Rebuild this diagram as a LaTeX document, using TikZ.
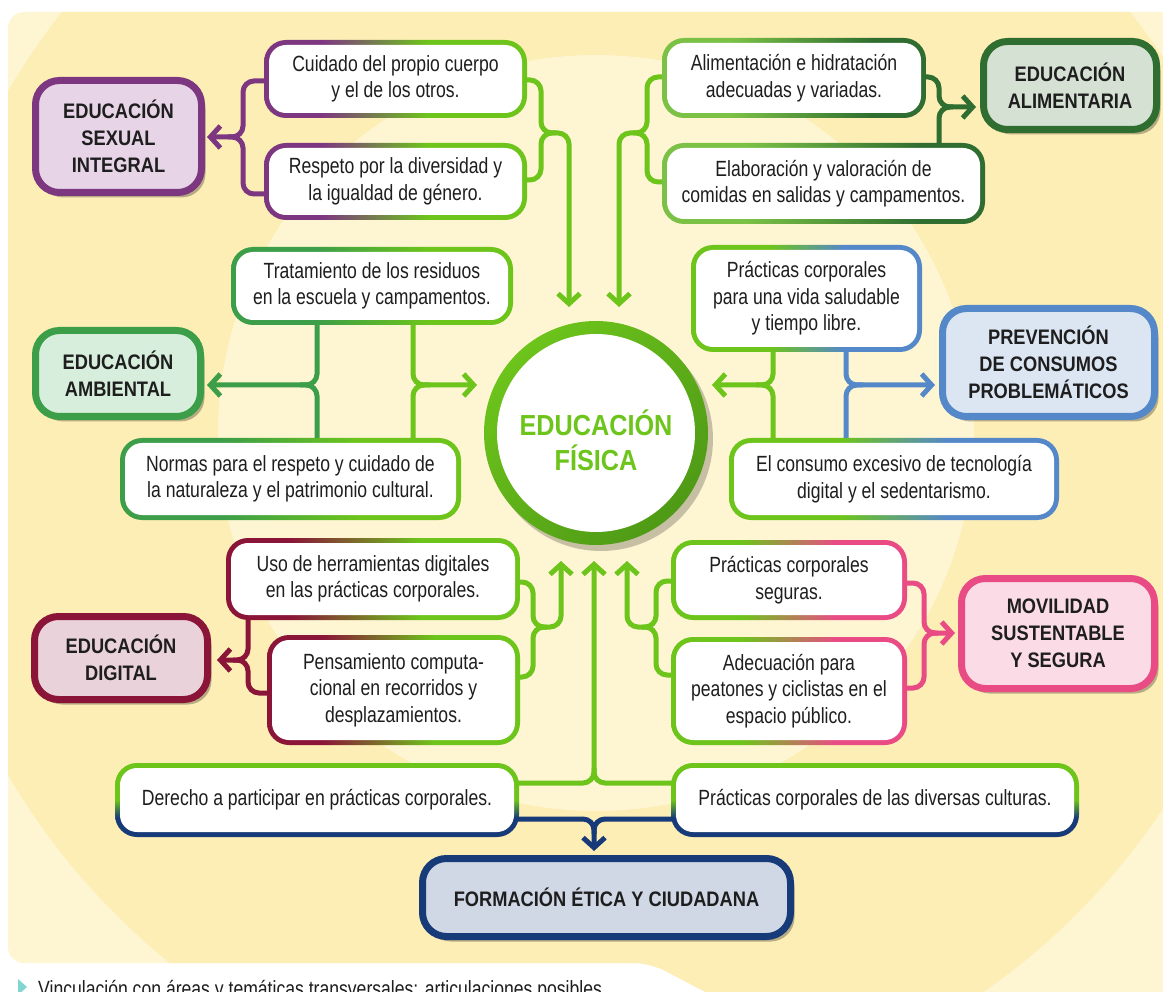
\documentclass[tikz,border=0pt]{standalone}
\usepackage{fontspec}
\setmainfont{Liberation Sans}[FakeStretch=0.80]
\newfontfamily\catfont{Liberation Sans}[FakeStretch=0.87]
\usetikzlibrary{arrows.meta,shadows}
\pgfdeclarelayer{back}
\pgfdeclarelayer{mid}
\pgfsetlayers{back,mid,main}
\definecolor{efgreen}{HTML}{6DC41B}
\definecolor{efdark}{HTML}{4F9A16}
\definecolor{lgreen}{HTML}{7BC146}
\definecolor{cP}{HTML}{7D3781}
\definecolor{cPf}{HTML}{E7D5E7}
\definecolor{cEA}{HTML}{2F6E30}
\definecolor{cEAf}{HTML}{D5E1D3}
\definecolor{cAm}{HTML}{3C9E48}
\definecolor{cAmf}{HTML}{D6EEDB}
\definecolor{cBl}{HTML}{5588C8}
\definecolor{cBlf}{HTML}{DCE6F3}
\definecolor{cCr}{HTML}{8A1538}
\definecolor{cCrf}{HTML}{EAD2DA}
\definecolor{cPk}{HTML}{E94C84}
\definecolor{cPkf}{HTML}{FBDCE6}
\definecolor{cNv}{HTML}{173A78}
\definecolor{cNvf}{HTML}{D0D8E6}
\definecolor{cream}{HTML}{FDEEB5}
\definecolor{pale}{HTML}{FEF5D3}
\definecolor{txt}{HTML}{1E1E1E}
\definecolor{markc}{HTML}{7FD6D2}
\pgfdeclarehorizontalshading{sgA}{100bp}{color(0bp)=(cP); color(36bp)=(cP); color(56bp)=(efgreen); color(100bp)=(efgreen)}
\pgfdeclarehorizontalshading{sgB}{100bp}{color(0bp)=(lgreen); color(38bp)=(lgreen); color(65bp)=(cEA); color(100bp)=(cEA)}
\pgfdeclarehorizontalshading{sgC}{100bp}{color(0bp)=(cAm); color(40bp)=(cAm); color(60bp)=(efgreen); color(100bp)=(efgreen)}
\pgfdeclarehorizontalshading{sgD}{100bp}{color(0bp)=(efgreen); color(42bp)=(efgreen); color(58bp)=(cBl); color(100bp)=(cBl)}
\pgfdeclarehorizontalshading{sgE}{100bp}{color(0bp)=(cCr); color(36bp)=(cCr); color(58bp)=(efgreen); color(100bp)=(efgreen)}
\pgfdeclarehorizontalshading{sgF}{100bp}{color(0bp)=(efgreen); color(40bp)=(efgreen); color(60bp)=(cPk); color(100bp)=(cPk)}
\pgfdeclareverticalshading{sgG}{100bp}{color(0bp)=(cNv); color(38bp)=(cNv); color(50bp)=(efgreen); color(100bp)=(efgreen)}
\newcommand\bt{\fontsize{22}{26.5}\selectfont}
\newcommand\ct{\catfont\bfseries\fontsize{21}{27}\selectfont}
\newcommand\eft{\catfont\bfseries\fontsize{29}{35}\selectfont}
\newcommand\gbox[6]{%
  \node[shade, shading=#5, rounded corners=22pt, minimum width=#3pt, minimum height=#4pt, inner sep=0pt, outer sep=0pt] (#1o) at #2 {};
  \node[wbox, minimum width={#3pt-10pt}, minimum height={#4pt-10pt}] (#1) at #2 {#6};
}
\newcommand\cbox[7]{%
  \node[cat, draw=#5, fill=#6, minimum width={#3pt-7pt}, minimum height={#4pt-7pt}] (#1) at #2 {#7};
}
\begin{document}
\begin{tikzpicture}[x=1pt,y=-1pt,
  wbox/.style={fill=white, rounded corners=17pt, inner sep=0pt, outer sep=0pt, align=center, font=\bt, text=txt},
  cat/.style={line width=7pt, rounded corners=24pt, align=center, font=\ct, text=txt, inner sep=0pt,
    drop shadow={shadow xshift=4pt, shadow yshift=-5pt, opacity=.28, fill=black}},
  con/.style={line width=5pt, rounded corners=11pt},
  arr/.style={-{Straight Barb[length=10pt,width=22pt]}}]
\useasboundingbox (0,0) rectangle (1163,992);
\clip (0,0) rectangle (1163,992);
\begin{pgfonlayer}{back}
\fill[white] (0,0) rectangle (1163,992);
\begin{scope}
\path[clip, rounded corners=16pt] (8,963) -- (8,12) -- (1200,12) -- (1200,1010) -- (740,1010) -- (650,963) -- cycle;
\fill[pale] (0,0) rectangle (1163,992);
\fill[cream] (596,433) circle (680);
\fill[pale] (596,433) circle (378);
\end{scope}
\fill[markc] (18,979) -- (27,987) -- (18,995) -- cycle;
\end{pgfonlayer}
\node[anchor=base west, font=\bt, text=txt, inner sep=0pt] (foot) at (38,996) {Vinculación con áreas y temáticas transversales: articulaciones posibles.};

% text boxes
\gbox{B2}{(395.5,79)}{263}{78}{sgA}{Cuidado del propio cuerpo\\y el de los otros.}
\gbox{B3}{(395.5,181.5)}{263}{77}{sgA}{Respeto por la diversidad y\\la igualdad de género.}
\gbox{B4}{(794,78)}{264}{80}{sgB}{Alimentación e hidratación\\adecuadas y variadas.}
\gbox{B5}{(823.5,183.5)}{323}{81}{sgB}{Elaboración y valoración de\\comidas en salidas y campamentos.}
\gbox{B7}{(372,286)}{282}{78}{sgC}{Tratamiento de los residuos\\en la escuela y campamentos.}
\gbox{B9}{(290.5,479)}{341}{82}{sgC}{Normas para el respeto y cuidado de\\la naturaleza y el patrimonio cultural.}
\gbox{B11}{(806.5,298.5)}{231}{107}{sgD}{Prácticas corporales\\para una vida saludable\\y tiempo libre.}
\gbox{B13}{(894,479)}{330}{82}{sgD}{El consumo excesivo de tecnología\\digital y el sedentarismo.}
\gbox{B14}{(373,579)}{294}{82}{sgE}{Uso de herramientas digitales\\en las prácticas corporales.}
\gbox{B16}{(393.5,690)}{253}{110}{sgE}{Pensamiento computa-\\cional en recorridos y\\desplazamientos.}
\gbox{B17}{(789,580)}{236}{80}{sgF}{Prácticas corporales\\seguras.}
\gbox{B19}{(789,691)}{236}{108}{sgF}{Adecuación para\\peatones y ciclistas en el\\espacio público.}
\gbox{B20}{(317,800)}{404}{74}{sgG}{Derecho a participar en prácticas corporales.}
\gbox{B21}{(875,800)}{408}{74}{sgG}{Prácticas corporales de las diversas culturas.}

% category boxes
\cbox{ESI}{(118.5,136.5)}{173}{119}{cP}{cPf}{EDUCACIÓN\\SEXUAL\\INTEGRAL}
\cbox{EA}{(1070,85.5)}{180}{95}{cEA}{cEAf}{EDUCACIÓN\\ALIMENTARIA}
\cbox{EAm}{(118,373.5)}{172}{93}{cAm}{cAmf}{EDUCACIÓN\\AMBIENTAL}
\cbox{PC}{(1048.5,362.5)}{219}{115}{cBl}{cBlf}{PREVENCIÓN\\DE CONSUMOS\\PROBLEMÁTICOS}
\cbox{ED}{(121,658)}{180}{90}{cCr}{cCrf}{EDUCACIÓN\\DIGITAL}
\cbox{MS}{(1058,633.5)}{200}{117}{cPk}{cPkf}{MOVILIDAD\\SUSTENTABLE\\Y SEGURA}
\cbox{FE}{(606.5,897.5)}{375}{85}{cNv}{cNvf}{FORMACIÓN ÉTICA Y CIUDADANA}

% central circle
\fill[black, opacity=.22] (601,439) circle (112);
\node[circle, minimum size=224pt, inner sep=0pt, shade, top color=efgreen, bottom color=efdark, shading angle=45] (EFo) at (596,433) {};
\node[circle, fill=white, minimum size=198pt, inner sep=0pt] (EF) at (596,433) {};
\node[align=center, font=\eft, text=efgreen, inner sep=0pt] (EFt) at (596,440) {EDUCACIÓN\\FÍSICA};

\begin{pgfonlayer}{mid}
% ESI
\draw[con, cP, arr] (B2.west |- 0,81) -- (243,81) -- (243,137) -- (207,137);
\draw[con, cP] (B3.west |- 0,194) -- (243,194) -- (243,137) -- (228,137);
\draw[con, efgreen, arr] (B2.east |- 0,80) -- (541,80) -- (541,133) -- (569,133) -- (569,307);
\draw[con, efgreen] (B3.east |- 0,180) -- (541,180) -- (541,133) -- (556,133);
% Alimentaria
\draw[con, efgreen, arr] (B4.west |- 0,77) -- (647,77) -- (647,133) -- (619,133) -- (619,307);
\draw[con, efgreen] (B5.west |- 0,182) -- (647,182) -- (647,133) -- (633,133);
\draw[con, cEA, arr] (B4.east |- 0,77) -- (939,77) -- (939,107) -- (976,107);
\draw[con, cEA] (B5.north -| 939,0) -- (939,107) -- (953,107);
% Ambiental
\draw[con, cAm, arr] (B7.south -| 317,0) -- (317,385) -- (207,385);
\draw[con, cAm] (B9.north -| 317,0) -- (317,385) -- (300,385);
\draw[con, efgreen, arr] (B7.south -| 413,0) -- (413,385) -- (477,385);
\draw[con, efgreen] (B9.north -| 413,0) -- (413,385) -- (430,385);
% Prevencion
\draw[con, efgreen, arr] (B11.south -| 773,0) -- (773,385) -- (712,385);
\draw[con, efgreen] (B13.north -| 773,0) -- (773,385) -- (756,385);
\draw[con, cBl, arr] (B11.south -| 846,0) -- (846,385) -- (935,385);
\draw[con, cBl] (B13.north -| 846,0) -- (846,385) -- (863,385);
% Digital
\draw[con, cCr, arr] (B14.south -| 248,0) -- (248,660) -- (217,660);
\draw[con, cCr] (B16.west |- 0,693) -- (248,693) -- (248,660) -- (233,660);
\draw[con, efgreen, arr] (B14.east |- 0,582) -- (533,582) -- (533,627) -- (561,627) -- (561,561);
\draw[con, efgreen] (B16.east |- 0,677) -- (533,677) -- (533,627) -- (547,627);
% Movilidad
\draw[con, efgreen, arr] (B17.west |- 0,581) -- (656,581) -- (656,627) -- (627,627) -- (627,561);
\draw[con, efgreen] (B19.west |- 0,675) -- (656,675) -- (656,627) -- (642,627);
\draw[con, cPk, arr] (B17.east |- 0,583) -- (924,583) -- (924,633) -- (955,633);
\draw[con, cPk] (B19.east |- 0,688) -- (924,688) -- (924,633) -- (938,633);
% Etica
\draw[con, efgreen, arr] (B20.east |- 0,783) -- (594,783) -- (594,561);
\draw[con, efgreen] (B21.west |- 0,783) -- (594,783) -- (594,768);
\draw[con, cNv, arr] (B20.east |- 0,819) -- (594,819) -- (594,851);
\draw[con, cNv] (B21.west |- 0,819) -- (594,819) -- (594,834);
\end{pgfonlayer}
\end{tikzpicture}
\end{document}
